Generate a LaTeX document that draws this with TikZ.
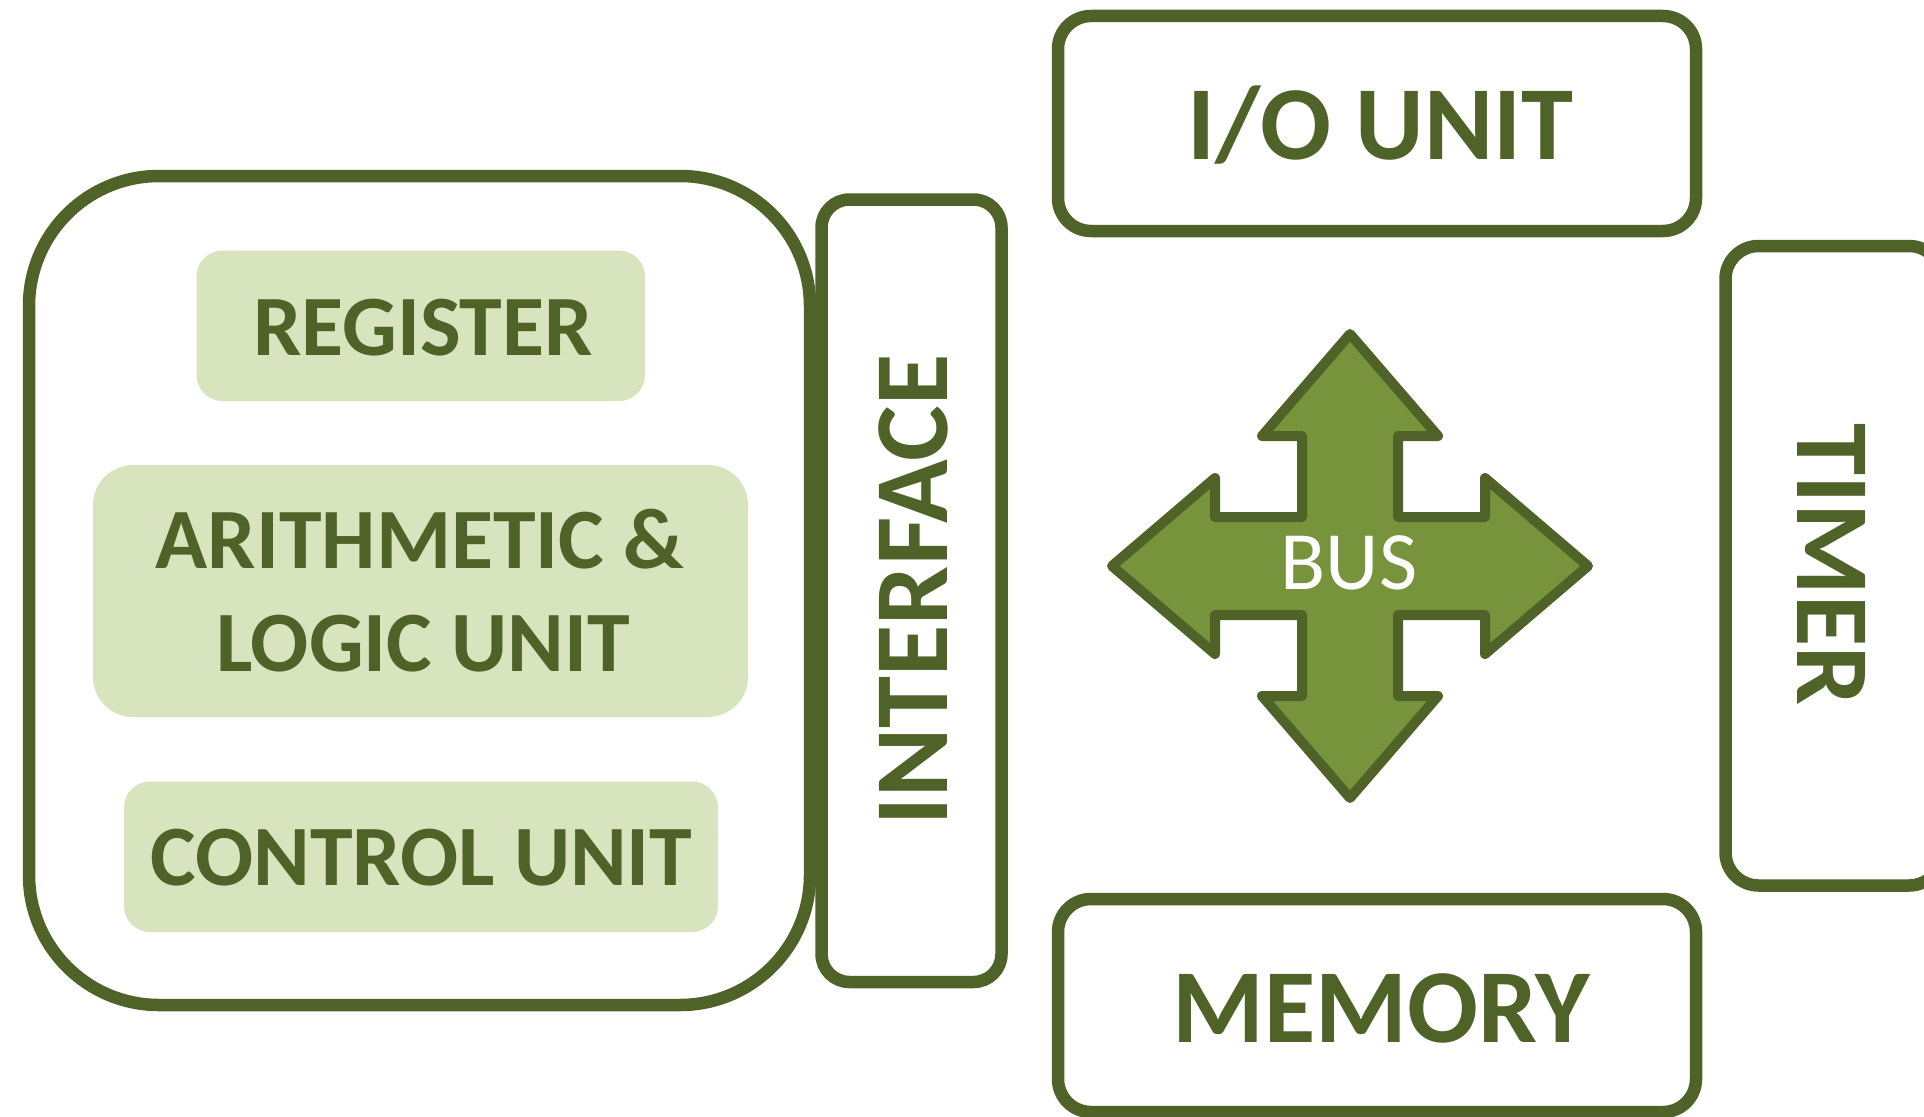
\documentclass[tikz,border=0pt]{standalone}
\usepackage{fontspec}
\setmainfont{Carlito}
\definecolor{olivedark}{HTML}{4F6228}
\definecolor{olivemid}{HTML}{77933C}
\definecolor{olivelight}{HTML}{D7E4BD}
\begin{document}
\begin{tikzpicture}[x=1pt,y=-1pt,
  frame/.style={draw=olivedark, line width=12.5pt, rectangle, inner sep=0pt},
  panel/.style={fill=olivelight, rectangle, inner sep=0pt},
  bigtext/.style={font=\bfseries\fontsize{105}{110}\selectfont, text=olivedark, inner sep=0pt},
  midtext/.style={font=\bfseries\fontsize{86}{103}\selectfont, text=olivedark, inner sep=0pt},
  bustext/.style={font=\fontsize{83}{90}\selectfont, text=white, inner sep=0pt},
  busarrow/.style={draw=olivedark, fill=olivemid, line width=10pt, line join=round}]
\useasboundingbox (0,0) rectangle (1924,1116);
\clip (0,0) rectangle (1924,1116);

% processor block with its three inner units
\node[frame, rounded corners=130pt, minimum width=781pt, minimum height=829pt] (cpu) at (419.5,590.5) {};
\node[panel, rounded corners=26pt, minimum width=448.5pt, minimum height=150.5pt] (regbox) at (420.75,325.75) {};
\node[panel, rounded corners=40pt, minimum width=655pt, minimum height=252pt] (alubox) at (420.5,591) {};
\node[panel, rounded corners=26pt, minimum width=594pt, minimum height=150.5pt] (cubox) at (421,856.75) {};
\node[midtext, anchor=base] (reg) at (423,355) {REGISTER};
\node[midtext, anchor=base] (alu1) at (420,568) {ARITHMETIC \&};
\node[midtext, anchor=base] (alu2) at (423,671) {LOGIC UNIT};
\node[midtext, anchor=base] (cu) at (421.5,885) {CONTROL UNIT};

% interface strip
\node[frame, rounded corners=28pt, minimum width=180pt, minimum height=782.5pt] (ifbox) at (911.5,590.75) {};
\node[bigtext, anchor=base, rotate=90] (iftext) at (947,590) {INTERFACE};

% peripheral units
\node[frame, rounded corners=33pt, minimum width=638pt, minimum height=215pt] (iobox) at (1377,123.5) {};
\node[bigtext, anchor=base] (io) at (1380.5,159.5) {I/O UNIT};
\node[frame, rounded corners=33pt, minimum width=638pt, minimum height=213pt] (membox) at (1377,1005.5) {};
\node[bigtext, anchor=base] (mem) at (1381,1042) {MEMORY};
\node[frame, rounded corners=33pt, minimum width=216.5pt, minimum height=639.5pt] (timerbox) at (1833.75,565.75) {};
\node[bigtext, anchor=base, rotate=-90] (timer) at (1797,564.5) {TIMER};

% four-way bus arrow
\path[busarrow, shift={(1350,566)}]
  (0,-232) -- (88,-130) -- (48,-130) -- (48,-49) -- (135,-49) -- (135,-88)
  -- (238,0) -- (135,88) -- (135,49) -- (48,49) -- (48,130) -- (88,130)
  -- (0,232) -- (-88,130) -- (-48,130) -- (-48,49) -- (-135,49) -- (-135,88)
  -- (-238,0) -- (-135,-88) -- (-135,-49) -- (-48,-49) -- (-48,-130) -- (-88,-130)
  -- cycle;
\node[bustext, anchor=base] (bus) at (1349,589) {BUS};
\end{tikzpicture}
\end{document}
